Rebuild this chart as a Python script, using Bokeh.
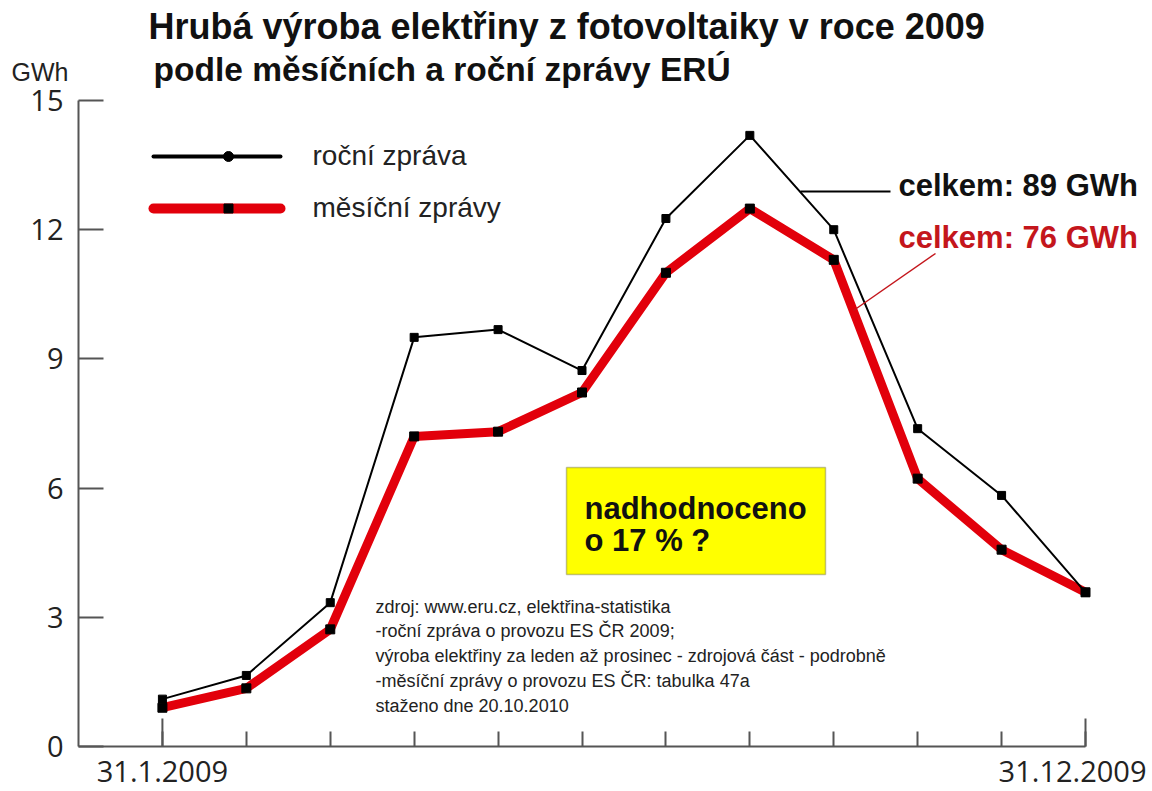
from bokeh.plotting import figure
from bokeh.models import Label, BoxAnnotation, FixedTicker, Range1d
from bokeh.embed import file_html
from bokeh.resources import INLINE

# ---- data ----
months = list(range(1, 13))
rocni_zprava = [1.1, 1.65, 3.34, 9.5, 9.68, 8.73, 12.26, 14.19, 12.0, 7.38, 5.83, 3.58]
mesicni_zpravy = [0.9, 1.35, 2.72, 7.2, 7.31, 8.22, 11.0, 12.49, 11.3, 6.22, 4.57, 3.58]
y_ticks = [0, 3, 6, 9, 12, 15]
first_label = "31.1.2009"
last_label = "31.12.2009"
series_names = ["roční zpráva", "měsíční zprávy"]
totals = ["celkem: 89 GWh", "celkem: 76 GWh"]
title_lines = ["Hrubá výroba elektřiny z fotovoltaiky v roce 2009",
               "podle měsíčních a roční zprávy ERÚ"]
note_lines = ["nadhodnoceno", "o 17 % ?"]
source_lines = ["zdroj: www.eru.cz, elektřina-statistika",
                "-roční zpráva o provozu ES ČR 2009;",
                "výroba elektřiny za leden až prosinec - zdrojová část - podrobně",
                "-měsíční zprávy o provozu ES ČR: tabulka 47a",
                "staženo dne 20.10.2010"]

# ---- layout: canvas pixel helpers (for annotation placement only) ----
W, H = 1152, 791
X0_PX, X12_PX = 78, 1085     # pixel of x=0 and x=12
Y0_PX, Y15_PX = 746, 100     # pixel of y=0 and y=15
PPX = (X12_PX - X0_PX) / 12.0
PPY = (Y0_PX - Y15_PX) / 15.0


def dx(px):
    return (px - X0_PX) / PPX


def dy(py):
    return (Y0_PX - py) / PPY


p = figure(width=W, height=H, output_backend="svg", toolbar_location=None,
           title=None,
           x_range=Range1d(dx(0), dx(W)), y_range=Range1d(dy(H), dy(0)),
           min_border_left=0, min_border_right=0,
           min_border_top=0, min_border_bottom=0)
p.outline_line_color = None
p.xgrid.visible = False
p.ygrid.visible = False
p.background_fill_color = "white"
p.border_fill_color = "white"

AX = "#555555"
TXT = "#222222"

# y axis (library axis, pinned at x=0)
ya = p.yaxis[0]
ya.fixed_location = 0
ya.bounds = (0, 15)
ya.ticker = FixedTicker(ticks=y_ticks)
ya.minor_tick_line_color = None
ya.major_tick_in = 25
ya.major_tick_out = 0
ya.major_tick_line_color = AX
ya.major_tick_line_width = 2
ya.axis_line_color = AX
ya.axis_line_width = 2
ya.major_label_standoff = 15
ya.major_label_text_font = "Open Sans"
ya.major_label_text_font_size = "29px"
ya.major_label_text_color = TXT

# x axis (library axis, pinned at y=0); its end labels are placed separately
xa = p.xaxis[0]
xa.fixed_location = 0
xa.bounds = (0, 12)
xa.ticker = FixedTicker(ticks=months)
xa.minor_tick_line_color = None
xa.major_tick_in = 15
xa.major_tick_out = 0
xa.major_tick_line_color = AX
xa.major_tick_line_width = 2
xa.axis_line_color = AX
xa.axis_line_width = 2
xa.major_label_overrides = {m: "" for m in months}

# longer ticks at first and last month
long_tick = 28 / PPY
p.segment(x0=[months[0], months[-1]], y0=[0, 0], x1=[months[0], months[-1]],
          y1=[long_tick, long_tick], line_color=AX, line_width=2)


def label(x, y, text, size, align="left", bold=False, color=TXT, font="Liberation Sans"):
    p.add_layout(Label(x=x, y=y, text=text, text_align=align, text_baseline="middle",
                       text_font=font, text_font_style="bold" if bold else "normal",
                       text_font_size=size, text_color=color))


# date labels
label(months[0], dy(771), first_label, "29px", align="center", font="Open Sans")
label(dx(1146), dy(771), last_label, "29px", align="right", font="Open Sans")

# GWh unit label
label(dx(11), dy(71), "GWh", "25px")

# title
label(dx(148), dy(26), title_lines[0], "36px", bold=True, color="#111111")
label(dx(153), dy(69), title_lines[1], "33.5px", bold=True, color="#111111")

RED = "#e2000b"
DARKRED = "#c4161c"

# yellow note box
p.add_layout(BoxAnnotation(left=dx(566), right=dx(825), top=dy(467), bottom=dy(574),
                           fill_color="#ffff00", fill_alpha=1.0,
                           line_color="#333333", line_width=1.5, level="underlay"))
label(dx(584), dy(508), note_lines[0], "31px", bold=True, color="#111111")
label(dx(584), dy(540), note_lines[1], "31px", bold=True, color="#111111")

# source text
src_y = [606, 630, 655, 680, 705]
for t, yy in zip(source_lines, src_y):
    label(dx(375), dy(yy), t, "18px")

# series
p.line(months, mesicni_zpravy, line_color=RED, line_width=9, line_join="round")
p.line(months, rocni_zprava, line_color="black", line_width=2)
p.scatter(months, mesicni_zpravy, marker="square", size=9, fill_color="black",
          line_color="black")
p.scatter(months, rocni_zprava, marker="square", size=8, fill_color="black",
          line_color="black")

# leader lines
p.segment(x0=[dx(800)], y0=[dy(191)], x1=[dx(890)], y1=[dy(191)],
          line_color="black", line_width=2)
p.segment(x0=[dx(935)], y0=[dy(253)], x1=[dx(853)], y1=[dy(310)],
          line_color=DARKRED, line_width=1.5)

# totals
label(dx(898), dy(185), totals[0], "31px", bold=True, color="#111111")
label(dx(898), dy(237), totals[1], "31px", bold=True, color=DARKRED)

# legend (manual)
p.segment(x0=[dx(153)], y0=[dy(156)], x1=[dx(280)], y1=[dy(156)],
          line_color="black", line_width=4, line_cap="round")
p.scatter([dx(228)], [dy(156)], marker="circle", size=10, fill_color="black",
          line_color="black")
p.segment(x0=[dx(153)], y0=[dy(208)], x1=[dx(280)], y1=[dy(208)],
          line_color=RED, line_width=10, line_cap="round")
p.scatter([dx(228)], [dy(208)], marker="square", size=9, fill_color="black",
          line_color="black")
label(dx(312), dy(155), series_names[0], "28px")
label(dx(312), dy(207), series_names[1], "28px")

open("out.html", "w").write(file_html(p, INLINE))
